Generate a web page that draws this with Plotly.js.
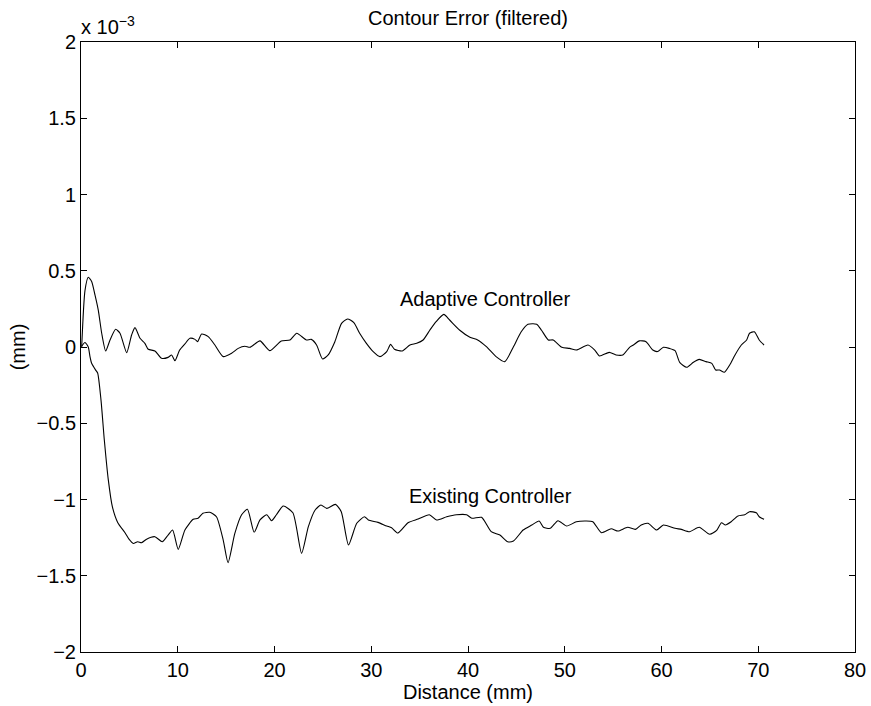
<!DOCTYPE html>
<html>
<head>
<meta charset="utf-8">
<script src="https://cdn.plot.ly/plotly-3.0.1.min.js"></script>
<style>html,body{margin:0;padding:0;background:#fff;}#chart{width:871px;height:706px;}</style>
</head>
<body>
<div id="chart"></div>
<script>
// values in units of 1e-3 mm
const adaptiveX = [0.07,0.41,0.75,1.1,1.45,1.79,2.14,2.55,3.0,3.58,4.03,4.72,5.23,5.58,6.1,6.6,6.95,7.64,8.33,9.0,9.37,9.71,10.2,10.74,11.26,11.78,12.05,12.47,13.15,13.84,14.7,15.57,16.25,16.94,17.46,18.5,19.5,20.7,21.6,22.3,23.3,23.8,24.35,24.97,25.55,26.24,26.93,27.55,28.2,28.8,29.5,30.2,30.9,31.6,32.0,32.4,33.2,34.0,34.7,35.36,36.05,36.7,37.5,38.1,39.15,40.2,41.0,41.9,42.9,43.8,44.7,45.5,46.2,47.1,47.6,48.3,48.8,49.7,50.5,51.2,52.4,53.1,53.6,54.6,55.3,56.0,56.7,57.1,57.7,58.4,59.1,59.6,60.2,60.8,61.4,61.9,62.6,63.3,63.9,64.6,65.2,65.6,66.0,66.5,67.05,67.6,68.25,68.8,69.1,69.6,70.1,70.6];
const adaptiveY = [0.0,0.37,0.457,0.43,0.34,0.24,0.09,-0.026,0.046,0.116,0.09,-0.037,0.079,0.127,0.057,0.024,-0.015,-0.026,-0.074,-0.068,-0.052,-0.09,-0.02,0.02,0.057,0.05,0.035,0.085,0.068,0.013,-0.063,-0.041,-0.009,0.005,-0.002,0.04,-0.024,0.039,0.046,0.09,0.046,0.05,0.013,-0.079,-0.052,0.035,0.155,0.184,0.16,0.09,0.024,-0.03,-0.063,-0.03,0.017,-0.015,-0.026,0.013,0.024,0.046,0.11,0.166,0.214,0.177,0.11,0.064,0.046,0.002,-0.063,-0.096,0.002,0.1,0.149,0.15,0.11,0.046,0.046,-0.002,-0.009,-0.02,0.013,-0.02,-0.059,-0.035,-0.052,-0.052,-0.002,0.013,0.04,0.035,-0.02,-0.03,-0.002,-0.009,-0.024,-0.103,-0.133,-0.1,-0.081,-0.096,-0.107,-0.151,-0.151,-0.166,-0.118,-0.052,0.013,0.046,0.09,0.1,0.046,0.013];

const existingX = [0.07,0.41,0.75,0.93,1.1,1.5,1.72,2.07,2.41,2.82,3.24,3.79,4.55,4.96,5.4,5.85,6.27,6.78,7.64,8.4,9.0,9.47,10.05,10.74,11.6,12.1,12.6,13.3,14.0,14.7,15.2,15.9,16.6,17.2,17.9,18.5,19.2,19.7,20.2,20.9,21.9,22.8,23.5,24.2,24.8,25.4,26.3,26.9,27.65,28.5,29.3,29.7,30.7,31.6,32.1,32.75,33.8,34.85,36.0,36.75,37.8,38.8,39.85,40.4,41.4,42.4,43.3,44.1,44.7,45.7,46.6,47.35,47.8,48.5,49.3,50.2,51.2,52.2,52.9,53.8,54.8,55.5,56.5,57.3,57.9,58.6,59.5,60.2,61.4,62.05,62.9,63.9,64.98,65.7,66.2,66.6,67.2,67.9,68.6,69.1,69.8,70.1,70.6];
const existingY = [0.006,0.03,0.0,-0.063,-0.107,-0.15,-0.17,-0.35,-0.61,-0.87,-1.047,-1.15,-1.218,-1.26,-1.288,-1.277,-1.283,-1.26,-1.244,-1.277,-1.233,-1.2,-1.327,-1.2,-1.13,-1.123,-1.09,-1.084,-1.113,-1.266,-1.414,-1.222,-1.1,-1.064,-1.215,-1.134,-1.1,-1.139,-1.1,-1.043,-1.087,-1.353,-1.178,-1.069,-1.036,-1.058,-1.032,-1.08,-1.298,-1.156,-1.113,-1.134,-1.15,-1.174,-1.185,-1.22,-1.152,-1.128,-1.1,-1.134,-1.113,-1.1,-1.1,-1.123,-1.117,-1.211,-1.233,-1.277,-1.272,-1.2,-1.167,-1.141,-1.182,-1.189,-1.139,-1.174,-1.146,-1.141,-1.146,-1.218,-1.192,-1.207,-1.182,-1.196,-1.167,-1.156,-1.2,-1.167,-1.189,-1.196,-1.211,-1.182,-1.228,-1.202,-1.152,-1.167,-1.146,-1.108,-1.1,-1.08,-1.087,-1.113,-1.13];

const xTicks = [0,10,20,30,40,50,60,70,80];
const yTicks = [-2,-1.5,-1,-0.5,0,0.5,1,1.5,2];
const yTickText = ["\u22122","\u22121.5","\u22121","\u22120.5","0","0.5","1","1.5","2"];

const FONT = "Liberation Sans, Arial, Helvetica, sans-serif";
const lineStyle = {color: "#000", width: 1.1, shape: "spline", smoothing: 0.6};

const traces = [
  {x: adaptiveX, y: adaptiveY, type: "scatter", mode: "lines", line: lineStyle, name: "Adaptive Controller", hoverinfo: "skip"},
  {x: existingX, y: existingY, type: "scatter", mode: "lines", line: lineStyle, name: "Existing Controller", hoverinfo: "skip"}
];

const axisCommon = {
  showgrid: false, zeroline: false, showline: true, linecolor: "#000", linewidth: 1,
  mirror: "allticks", ticks: "inside", ticklen: 6, tickcolor: "#000", tickwidth: 1,
  tickfont: {family: FONT, size: 20, color: "#000"}
};

const layout = {
  width: 871, height: 706,
  margin: {l: 81, r: 15.5, t: 42, b: 54},
  paper_bgcolor: "#fff", plot_bgcolor: "#fff",
  showlegend: false,
  font: {family: FONT, size: 20, color: "#000"},
  title: {text: "Contour Error (filtered)", font: {family: FONT, size: 20, color: "#000"},
          x: 0.5, xref: "paper", xanchor: "center", y: 1 - 18/706, yref: "container", yanchor: "middle"},
  xaxis: Object.assign({}, axisCommon, {
    range: [0, 80], tickmode: "array", tickvals: xTicks, ticktext: xTicks.map(String),
    title: {text: "Distance (mm)", font: {family: FONT, size: 20, color: "#000"}, standoff: 4}
  }),
  yaxis: Object.assign({}, axisCommon, {
    range: [-2, 2], tickmode: "array", tickvals: yTicks, ticktext: yTickText,
    title: {text: "(mm)", font: {family: FONT, size: 20, color: "#000"}, standoff: 5}
  }),
  annotations: [
    {text: "x 10<sup>\u22123</sup>", xref: "paper", yref: "paper", x: 0, y: 1, xanchor: "left", yanchor: "bottom",
     showarrow: false, font: {family: FONT, size: 20, color: "#000"}, xshift: -2, yshift: 2},
    {text: "Adaptive Controller", xref: "x", yref: "y", x: 41.8, y: 0.315, showarrow: false,
     font: {family: FONT, size: 20, color: "#000"}},
    {text: "Existing Controller", xref: "x", yref: "y", x: 42.3, y: -0.98, showarrow: false,
     font: {family: FONT, size: 20, color: "#000"}}
  ]
};

Plotly.newPlot("chart", traces, layout, {staticPlot: true, displayModeBar: false});
</script>
</body>
</html>
